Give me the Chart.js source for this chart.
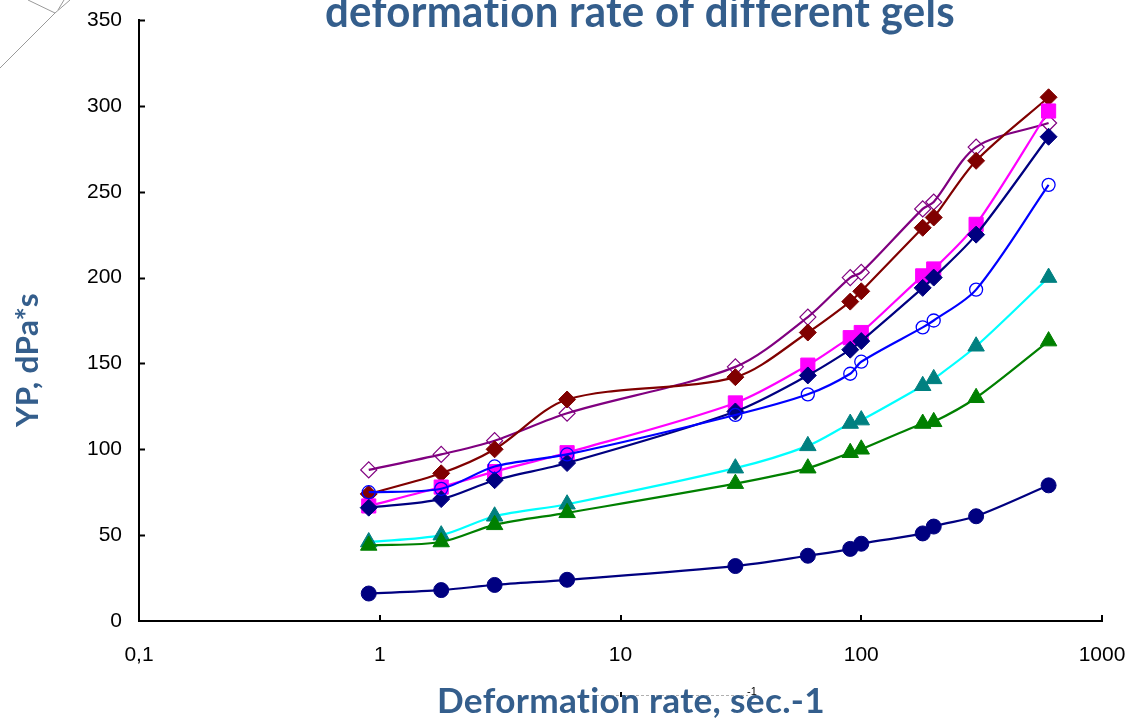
<!DOCTYPE html>
<html lang="en">
<head>
    <meta charset="UTF-8">
    <title>YP vs deformation rate of different gels</title>
    <script src="https://cdn.jsdelivr.net/npm/chart.js"></script>
    <style>
        body {
            margin: 0;
            background-color: white;
        }
        #wrap {
            width: 1129px;
            height: 721px;
        }
    </style>
</head>
<body>
    <div id="wrap">
        <canvas id="ypChart" width="1129" height="721"></canvas>
    </div>

    <script>
        // Deformation rate, sec-1 (rotational viscometer speeds)
        const rate = [0.9, 1.8, 3, 6, 30, 60, 90, 100, 180, 200, 300, 600];

        // YP readings, dPa*s, one array per gel
        const gelNavyCircle = [16, 18, 21, 24, 32, 38, 42, 45, 51, 55, 61, 79];
        const gelGreen = [44, 46, 56, 63, 80, 89, 98, 100, 115, 116, 130, 163];
        const gelTeal = [46, 50, 61, 68, 89, 102, 115, 117, 137, 141, 160, 200];
        const gelBlueOpen = [75, 77, 90, 97, 120, 132, 144, 151, 171, 175, 193, 254];
        const gelNavyDiamond = [66, 71, 82, 92, 122, 143, 158, 163, 194, 200, 225, 282];
        const gelMagenta = [67, 78, 87, 98, 127, 149, 165, 168, 201, 205, 231, 297];
        const gelDarkRed = [74, 86, 100, 129, 142, 168, 186, 192, 229, 235, 268, 305];
        const gelPurpleOpen = [88, 97, 105, 121, 148, 177, 200, 203, 240, 244, 276, 290];

        const xTicks = [0.1, 1, 10, 100, 1000];
        const xTickLabels = ['0,1', '1', '10', '100', '1000'];

        const titleText = 'deformation rate of different gels';
        const xTitle = 'Deformation rate, sec.-1';
        const yTitle = 'YP, dPa*s';

        const tickFont = "'Liberation Sans', Arial, sans-serif";
        const titleColor = '#345e8c';

        function points(ys) {
            return rate.map((r, i) => ({ x: r, y: ys[i] }));
        }

        function series(ys, line, fill, stroke, style, radius, border) {
            return {
                data: points(ys),
                borderColor: line,
                borderWidth: 2.2,
                pointBackgroundColor: fill,
                pointBorderColor: stroke,
                pointBorderWidth: border,
                pointStyle: style,
                pointRadius: radius,
                pointHoverRadius: radius,
                tension: 0.3,
                fill: false,
                clip: false
            };
        }

        // keep the plot box where the reference has it
        function noPad(scale) {
            scale.paddingTop = 0;
            scale.paddingBottom = 0;
            scale.paddingLeft = 0;
            scale.paddingRight = 0;
        }

        // draw text squeezed/stretched to a given width
        function fitText(ctx, text, x, y, font, width, rotate) {
            ctx.save();
            ctx.font = font;
            ctx.letterSpacing = '0.3px'; // no "ti" ligature
            const w = ctx.measureText(text).width;
            ctx.translate(x, y);
            if (rotate) ctx.rotate(-Math.PI / 2);
            ctx.scale(width / w, 1);
            ctx.textAlign = 'center';
            ctx.fillText(text, 0, 0);
            ctx.restore();
        }

        const decor = {
            id: 'decor',
            afterDraw(chart) {
                const ctx = chart.ctx;
                const xs = chart.scales.x;
                const ys = chart.scales.y;
                const area = chart.chartArea;

                // inward tick marks
                ctx.save();
                ctx.strokeStyle = '#000';
                ctx.lineWidth = 2;
                ctx.beginPath();
                for (let v = 50; v <= 350; v += 50) {
                    const py = Math.round(ys.getPixelForValue(v)) + 0.5;
                    ctx.moveTo(area.left, py);
                    ctx.lineTo(area.left + 6, py);
                }
                xTicks.slice(1).forEach(v => {
                    const px = Math.round(xs.getPixelForValue(v));
                    ctx.moveTo(px, area.bottom);
                    ctx.lineTo(px, area.bottom - 6);
                });
                ctx.stroke();

                // leftover grey shape in the top left corner
                ctx.strokeStyle = '#9a9a9a';
                ctx.lineWidth = 1;
                ctx.beginPath();
                ctx.moveTo(0, 68); ctx.lineTo(55, 13);
                ctx.moveTo(28, 0); ctx.lineTo(55, 13);
                ctx.moveTo(55, 13); ctx.lineTo(70, 0);
                ctx.moveTo(58, 10); ctx.lineTo(64, 0);
                ctx.stroke();

                // faint dashed line and stray superscript under the axis
                ctx.strokeStyle = '#b0b0b0';
                ctx.setLineDash([3, 2]);
                ctx.beginPath();
                ctx.moveTo(596, 695.5); ctx.lineTo(748, 695.5);
                ctx.stroke();
                ctx.setLineDash([]);
                ctx.fillStyle = '#000';
                ctx.fillRect(620, 692, 2, 5);
                ctx.font = "11px 'Liberation Sans', Arial";
                ctx.textAlign = 'left';
                ctx.fillText('-1', 747, 695);
                ctx.restore();

                // titles
                ctx.save();
                ctx.fillStyle = titleColor;
                ctx.textBaseline = 'alphabetic';
                fitText(ctx, titleText, 640, 27, 'bold 43px Lato', 630, false);
                fitText(ctx, xTitle, 631, 713, 'bold 34px Lato', 388, false);
                ctx.textBaseline = 'middle';
                fitText(ctx, yTitle, 28, 360, 'bold 31px Lato', 134, true);
                ctx.restore();
            }
        };

        new Chart(document.getElementById('ypChart'), {
            type: 'line',
            data: {
                datasets: [
                    series(gelNavyCircle, '#000080', '#000080', '#000080', 'circle', 7.5, 1),
                    series(gelGreen, '#008000', '#008000', '#008000', 'triangle', 9.5, 1),
                    series(gelTeal, '#00ffff', '#008080', '#008080', 'triangle', 9.5, 1),
                    series(gelBlueOpen, '#0000ff', 'rgba(0,0,0,0)', '#0000ff', 'circle', 6.5, 1.3),
                    series(gelNavyDiamond, '#000080', '#000080', '#000080', 'rectRot', 8.5, 1),
                    series(gelMagenta, '#ff00ff', '#ff00ff', '#ff00ff', 'rect', 10, 1),
                    series(gelDarkRed, '#800000', '#800000', '#800000', 'rectRot', 8.5, 1),
                    series(gelPurpleOpen, '#800080', 'rgba(0,0,0,0)', '#800080', 'rectRot', 8, 1.2)
                ]
            },
            options: {
                responsive: false,
                animation: false,
                layout: {
                    autoPadding: false,
                    padding: { top: 20, right: 27, left: 0, bottom: 0 }
                },
                plugins: {
                    legend: { display: false },
                    title: { display: false },
                    tooltip: { enabled: false }
                },
                scales: {
                    x: {
                        type: 'logarithmic',
                        min: 0.1,
                        max: 1000,
                        afterBuildTicks: scale => {
                            scale.ticks = xTicks.map(v => ({ value: v }));
                        },
                        afterFit: scale => { scale.height = 100; noPad(scale); },
                        grid: { display: false, drawTicks: false },
                        border: { display: true, color: '#000', width: 2 },
                        ticks: {
                            autoSkip: false,
                            maxRotation: 0,
                            padding: 22,
                            color: '#000',
                            font: { family: tickFont, size: 21 },
                            callback: value => {
                                const i = xTicks.indexOf(value);
                                return i >= 0 ? xTickLabels[i] : '';
                            }
                        }
                    },
                    y: {
                        min: 0,
                        max: 350,
                        afterFit: scale => { scale.width = 139; noPad(scale); },
                        grid: { display: false, drawTicks: false },
                        border: { display: true, color: '#000', width: 2 },
                        ticks: {
                            stepSize: 50,
                            padding: 17,
                            color: '#000',
                            font: { family: tickFont, size: 21 }
                        }
                    }
                }
            },
            plugins: [decor]
        });
    </script>
</body>
</html>
